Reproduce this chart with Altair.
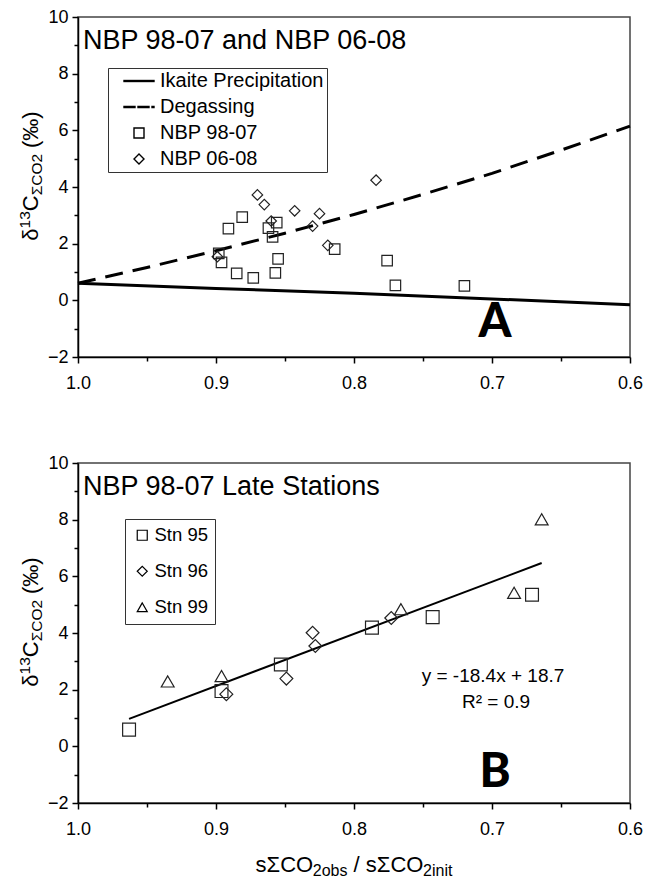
import altair as alt
import pandas as pd

FONT = "Liberation Sans, Arial, sans-serif"
HEAVY = "Lato, Liberation Sans, sans-serif"

# ---------------- Panel A data ----------------
a98_x = [0.881, 0.891, 0.856, 0.862, 0.859, 0.898, 0.896, 0.855, 0.814, 0.776, 0.885, 0.873, 0.857, 0.770, 0.720]
a98_y = [2.94, 2.53, 2.74, 2.55, 2.24, 1.66, 1.34, 1.46, 1.81, 1.40, 0.95, 0.79, 0.97, 0.53, 0.51]
a06_x = [0.784, 0.870, 0.865, 0.843, 0.825, 0.860, 0.830, 0.819, 0.899]
a06_y = [4.24, 3.72, 3.38, 3.16, 3.06, 2.80, 2.62, 1.94, 1.54]
ikaite_x = [1.0, 0.9, 0.8, 0.7, 0.6]
ikaite_y = [0.60, 0.42, 0.25, 0.05, -0.16]
degas_x = [1.0, 0.95, 0.9, 0.85, 0.8, 0.75, 0.7, 0.65, 0.6]
degas_y = [0.60, 1.16, 1.75, 2.37, 3.03, 3.74, 4.48, 5.30, 6.15]
legendA_names = ["Ikaite Precipitation", "Degassing", "NBP 98-07", "NBP 06-08"]

# ---------------- Panel B data ----------------
s95_x = [0.963, 0.896, 0.853, 0.787, 0.743, 0.671]
s95_y = [0.59, 1.95, 2.89, 4.19, 4.56, 5.35]
s96_x = [0.8925, 0.849, 0.830, 0.828, 0.773]
s96_y = [1.84, 2.39, 4.01, 3.54, 4.53]
s99_x = [0.935, 0.896, 0.766, 0.684, 0.664]
s99_y = [2.29, 2.48, 4.84, 5.42, 8.01]
fit_x = [0.963, 0.664]
fit_y = [0.97, 6.47]
legendB_names = ["Stn 95", "Stn 96", "Stn 99"]

x_ticks = [1.0, 0.95, 0.9, 0.85, 0.8, 0.75, 0.7, 0.65, 0.6]
y_ticks = [-2, -1, 0, 1, 2, 3, 4, 5, 6, 7, 8, 9, 10]

W, H = 552, 340

# approximate Arial advance widths (em) for laying out rich-text titles
CW = {"δ": 0.556, "1": 0.556, "3": 0.556, "C": 0.722, "Σ": 0.6, "O": 0.778, "2": 0.556,
      " ": 0.278, "(": 0.333, ")": 0.333, "‰": 1.0, "s": 0.5, "o": 0.556, "b": 0.556,
      "/": 0.278, "i": 0.222, "n": 0.556, "t": 0.278}


def tw(s, fs):
    return sum(CW.get(c, 0.556) for c in s) * fs


x_enc = alt.X("x:Q",
              scale=alt.Scale(domain=[0.6, 1.0], reverse=True, nice=False, zero=False),
              axis=alt.Axis(values=x_ticks, format=".1f", title=None, grid=False,
                            labelExpr="round(datum.value*20) % 2 == 0 ? datum.label : ''",
                            tickSize={"condition": {"test": "round(datum.value*20) % 2 != 0", "value": 4}, "value": 6},
                            labelFlush=False, labelOverlap=False, labelPadding=11,
                            labelFont=FONT, labelFontSize=18, labelColor="black",
                            domainColor="black", domainWidth=1.5, tickColor="black", tickWidth=1.5))
y_enc = alt.Y("y:Q",
              scale=alt.Scale(domain=[-2, 10], nice=False, zero=False),
              axis=alt.Axis(values=y_ticks, title=None, grid=False,
                            labelExpr="datum.value % 2 == 0 ? datum.label : ''",
                            tickSize={"condition": {"test": "datum.value % 2 != 0", "value": 4}, "value": 6},
                            labelOverlap=False, labelPadding=4, labelFlush=False,
                            labelFont=FONT, labelFontSize=18, labelColor="black",
                            domainColor="black", domainWidth=1.5, tickColor="black", tickWidth=1.5))


def text_layer(txt, px, py, size, font=FONT, weight="normal", align="left", baseline="middle", angle=0):
    kw = dict(font=font, fontSize=size, fontWeight=weight, align=align, baseline=baseline, color="black")
    if angle:
        kw["angle"] = angle
    return alt.Chart(pd.DataFrame({"t": [txt]})).mark_text(**kw).encode(
        x=alt.value(px), y=alt.value(py), text="t:N")


def y_title_layers(center):
    big, small = 22, 15.5
    pieces = [("δ", big, 0), ("13", small, -8.5), ("C", big, 0), ("ΣCO2", small, 4), (" (‰)", big, 0)]
    total = sum(tw(p[0], p[1]) for p in pieces)
    y0 = center + total / 2
    base_x = -40
    layers = []
    for txt, fs, shift in pieces:
        lead = len(txt) - len(txt.lstrip(" "))
        y_start = y0 - tw(" " * lead, fs)
        layers.append(text_layer(txt.strip(), base_x + shift, y_start, fs, baseline="alphabetic", angle=270))
        y0 -= tw(txt, fs)
    return layers


def x_title_layers(center, base_y):
    big, small = 22, 16
    pieces = [("sΣCO", big, 0), ("2obs", small, 4), (" / sΣCO", big, 0), ("2init", small, 4)]
    total = sum(tw(p[0], p[1]) for p in pieces)
    x0 = center - total / 2
    layers = []
    for txt, fs, shift in pieces:
        lead = len(txt) - len(txt.lstrip(" "))
        x_start = x0 + tw(" " * lead, fs)
        layers.append(text_layer(txt.strip(), x_start, base_y + shift, fs, baseline="alphabetic"))
        x0 += tw(txt, fs)
    return layers


# ---------------- Panel A ----------------
ptsA = pd.DataFrame({
    "x": a98_x + a06_x,
    "y": a98_y + a06_y,
    "series": ["NBP 98-07"] * len(a98_x) + ["NBP 06-08"] * len(a06_x),
})
solid_path = "M-3.0,-0.1H3.0V0.1H-3.0Z"
dash_path = "M-3.0,-0.1H-0.8V0.1H-3.0Z M-0.2,-0.1H2.0V0.1H-0.2Z M2.6,-0.1H3.0V0.1H2.6Z"

legA = alt.Legend(title=None, orient="none", legendX=30, legendY=51,
                  labelFont=FONT, labelFontSize=20, labelColor="black", labelLimit=400,
                  symbolSize=100, symbolStrokeWidth=1.4, symbolStrokeColor="black",
                  symbolFillColor="transparent", symbolOffset=18, labelOffset=11,
                  rowPadding=6, padding=3, strokeColor="#333", fillColor="white")

ikaite = alt.Chart(pd.DataFrame({"x": ikaite_x, "y": ikaite_y})).mark_line(
    color="black", strokeWidth=3).encode(x=x_enc, y=y_enc)
degas = alt.Chart(pd.DataFrame({"x": degas_x, "y": degas_y})).mark_line(
    color="black", strokeWidth=3, strokeDash=[18, 10]).encode(x=x_enc, y=y_enc)
pointsA = alt.Chart(ptsA).mark_point(filled=False, stroke="#222", strokeWidth=1.2, size=110, opacity=1).encode(
    x=x_enc, y=y_enc,
    shape=alt.Shape("series:N",
                    scale=alt.Scale(domain=legendA_names, range=[solid_path, dash_path, "square", "diamond"]),
                    legend=legA))

panelA = alt.layer(
    ikaite, degas, pointsA,
    text_layer("NBP 98-07 and NBP 06-08", 5, 24, 27),
    text_layer("A", 417, 306, 47, font=HEAVY, weight=900, align="center"),
    *y_title_layers(H / 2 - 11),
).properties(width=W, height=H)

# ---------------- Panel B ----------------
ptsB = pd.DataFrame({
    "x": s95_x + s96_x + s99_x,
    "y": s95_y + s96_y + s99_y,
    "stn": ["Stn 95"] * len(s95_x) + ["Stn 96"] * len(s96_x) + ["Stn 99"] * len(s99_x),
})
legB = alt.Legend(title=None, orient="none", legendX=47, legendY=56,
                  labelFont=FONT, labelFontSize=18.5, labelColor="black",
                  symbolSize=100, symbolStrokeWidth=1.2, symbolStrokeColor="black",
                  symbolFillColor="transparent", symbolOffset=1, labelOffset=3,
                  rowPadding=17, padding=7, strokeColor="#333", fillColor="white")

fit = alt.Chart(pd.DataFrame({"x": fit_x, "y": fit_y})).mark_line(
    color="black", strokeWidth=2).encode(x=x_enc, y=y_enc)
pointsB = alt.Chart(ptsB).mark_point(filled=False, stroke="#222", strokeWidth=1.2, size=165, opacity=1).encode(
    x=x_enc, y=y_enc,
    shape=alt.Shape("stn:N",
                    scale=alt.Scale(domain=legendB_names, range=["square", "diamond", "triangle-up"]),
                    legend=legB))

panelB = alt.layer(
    fit, pointsB,
    text_layer("NBP 98-07 Late Stations", 5, 24, 27),
    text_layer("y = -18.4x + 18.7", 415, 213, 19, align="center"),
    text_layer("R² = 0.9", 418, 239, 19, align="center"),
    text_layer("B", 417, 310, 47, font=HEAVY, weight=900, align="center"),
    *y_title_layers(H / 2 - 11),
    *x_title_layers(276, 409),
).properties(width=W, height=H)

chart = alt.vconcat(panelA, panelB, spacing=60).resolve_scale(
    shape="independent").resolve_legend(shape="independent").configure(
    padding={"left": 16, "top": 7, "right": 0, "bottom": 0}, background="white"
).configure_view(stroke="#444", strokeWidth=1.5)

chart.save("out.html", embed_options={"renderer": "svg", "actions": False})
